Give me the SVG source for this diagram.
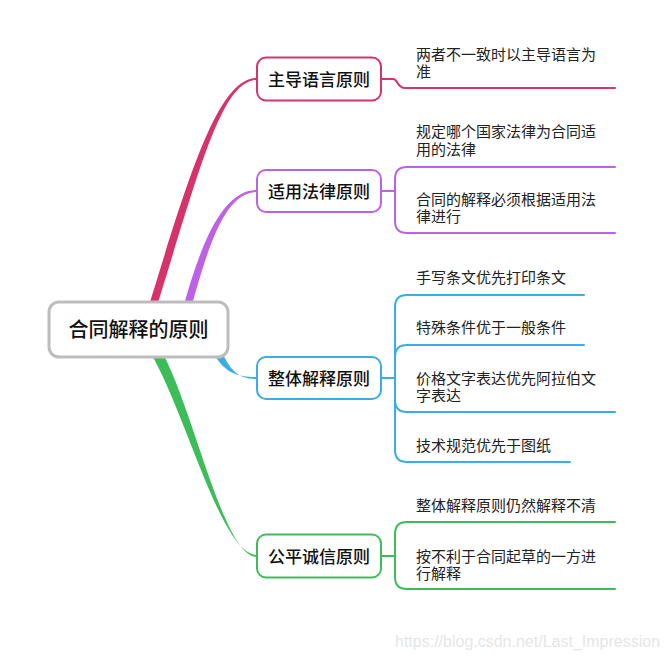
<svg xmlns="http://www.w3.org/2000/svg" width="665" height="660" viewBox="0 0 665 660">
<style>
.bg{fill:#ffffff}
.node{fill:#ffffff;stroke-width:2}
.root{fill:#ffffff;stroke:#bdbdbd;stroke-width:3}
.t-root{font-family:"Noto Sans CJK SC","Noto Sans",sans-serif;font-size:20px;font-weight:500;fill:#111;text-anchor:middle}
.t-node{font-family:"Noto Sans CJK SC","Noto Sans",sans-serif;font-size:17px;font-weight:500;fill:#111;text-anchor:middle}
.t-leaf{font-family:"Noto Sans CJK SC","Noto Sans",sans-serif;font-size:15px;fill:#222}
.line{fill:none;stroke-width:2;stroke-linecap:round;stroke-linejoin:round}
.red{stroke:#d6336c}
.purple{stroke:#bd62e6}
.blue{stroke:#3aade6}
.green{stroke:#3dbd5a}
.wm{font-family:"Liberation Sans",Arial,sans-serif;font-size:16px;fill:#e6e6e6}
</style>
<rect class="bg" x="0" y="0" width="665" height="660"/>
<g id="connectors">
  <!-- main tapered branches -->
  <path fill="#d6336c" d="M147,312 C191,168 219,78 257,78 L257,80 C221,80 199,172 155,312 Z"/>
  <path fill="#bd62e6" d="M182,312 C202,238 224,190 257,190 L257,192 C226,192 209,242 190,312 Z"/>
  <path fill="#3aade6" d="M210,347 C223,374 238,377 257,377 L257,379 C237,379 229,370 218,343 Z"/>
  <path fill="#3dbd5a" d="M150,352 C186,412 221,555 257,555 L257,557 C223,557 194,408 160,348 Z"/>
  <!-- red sub -->
  <path class="line red" d="M381,79 L393,79 C398,79 397,88 405,88 L615,88"/>
  <!-- purple sub -->
  <path class="line purple" d="M381,191 L395,191"/>
  <path class="line purple" d="M395,191 L395,179 Q395,167 407,167 L615,167"/>
  <path class="line purple" d="M395,191 L395,221 Q395,233 407,233 L615,233"/>
  <!-- blue sub -->
  <path class="line blue" d="M382,378 L395,378"/>
  <path class="line blue" d="M395,378 L395,307 Q395,295 407,295 L584,295"/>
  <path class="line blue" d="M395,378 L395,357 Q395,345 407,345 L584,345"/>
  <path class="line blue" d="M395,378 L395,400 Q395,412 407,412 L615,412"/>
  <path class="line blue" d="M395,378 L395,450 Q395,462 407,462 L570,462"/>
  <!-- green sub -->
  <path class="line green" d="M381,556 L395,556"/>
  <path class="line green" d="M395,556 L395,534 Q395,522 407,522 L615,522"/>
  <path class="line green" d="M395,556 L395,577 Q395,589 407,589 L615,589"/>
</g>
<g id="root">
  <rect class="root" x="49" y="302" width="179" height="55" rx="10"/>
  <text class="t-root" x="138.5" y="337">合同解释的原则</text>
</g>
<g id="n1">
  <rect class="node red" x="257" y="57.5" width="124" height="43" rx="9"/>
  <text class="t-node" x="319" y="85.5">主导语言原则</text>
</g>
<g id="n2">
  <rect class="node purple" x="257" y="170" width="124" height="42" rx="9"/>
  <text class="t-node" x="319" y="197.5">适用法律原则</text>
</g>
<g id="n3">
  <rect class="node blue" x="257" y="357" width="124" height="42" rx="9"/>
  <text class="t-node" x="319" y="384.5">整体解释原则</text>
</g>
<g id="n4">
  <rect class="node green" x="257" y="534.5" width="124" height="43" rx="9"/>
  <text class="t-node" x="319" y="562.5">公平诚信原则</text>
</g>
<g id="leaf-r1">
  <text class="t-leaf" x="416" y="60">两者不一致时以主导语言为</text>
  <text class="t-leaf" x="416" y="77">准</text>
</g>
<g id="leaf-p1">
  <text class="t-leaf" x="416" y="137">规定哪个国家法律为合同适</text>
  <text class="t-leaf" x="416" y="155">用的法律</text>
</g>
<g id="leaf-p2">
  <text class="t-leaf" x="416" y="205">合同的解释必须根据适用法</text>
  <text class="t-leaf" x="416" y="222">律进行</text>
</g>
<g id="leaf-b1">
  <text class="t-leaf" x="416" y="283">手写条文优先打印条文</text>
</g>
<g id="leaf-b2">
  <text class="t-leaf" x="416" y="333">特殊条件优于一般条件</text>
</g>
<g id="leaf-b3">
  <text class="t-leaf" x="416" y="384">价格文字表达优先阿拉伯文</text>
  <text class="t-leaf" x="416" y="401">字表达</text>
</g>
<g id="leaf-b4">
  <text class="t-leaf" x="416" y="451">技术规范优先于图纸</text>
</g>
<g id="leaf-g1">
  <text class="t-leaf" x="416" y="511">整体解释原则仍然解释不清</text>
</g>
<g id="leaf-g2">
  <text class="t-leaf" x="416" y="562">按不利于合同起草的一方进</text>
  <text class="t-leaf" x="416" y="579">行解释</text>
</g>
<text class="wm" x="395" y="647">https://blog.csdn.net/Last_Impression</text>
</svg>
